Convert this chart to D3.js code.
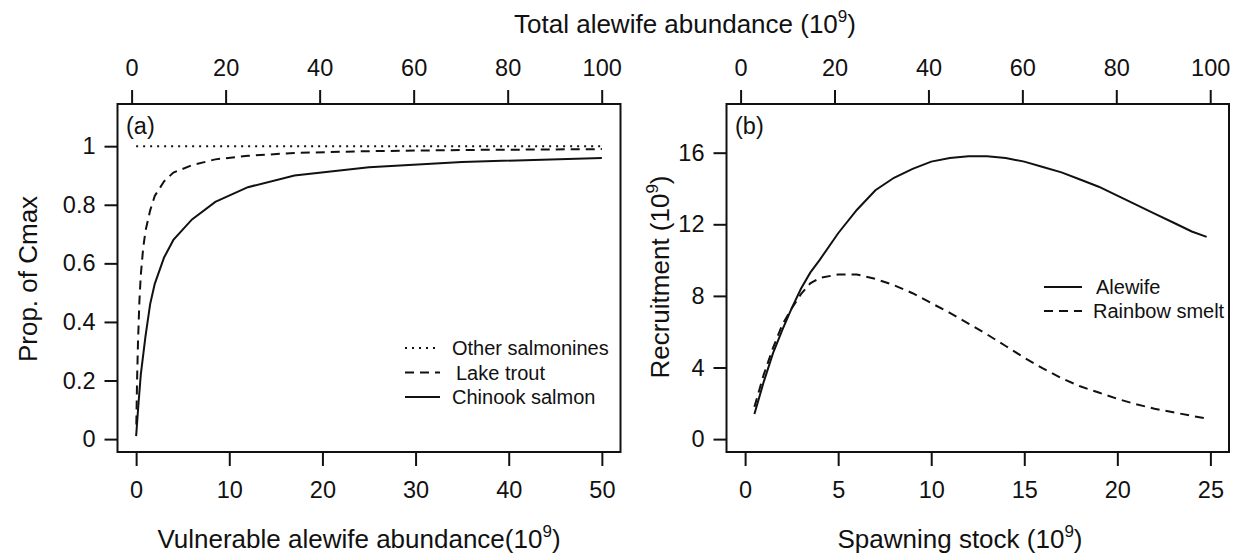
<!DOCTYPE html>
<html>
<head>
<meta charset="utf-8">
<script src="https://cdn.jsdelivr.net/npm/d3@7"></script>
<style>
  body { margin: 0; background: #fff; }
  svg { font-family: "Liberation Sans", Arial, sans-serif; }
  .tick line { stroke: #111; stroke-width: 2; }
  .tick text { fill: #111; font-size: 23.5px; }
</style>
</head>
<body>
<svg id="chart" width="1236" height="557"></svg>
<script>
// panel (a): consumption vs vulnerable alewife
var chinookX = [0, 0.25, 0.5, 1, 1.5, 2, 3, 4, 6, 8.5, 12, 17, 25, 35, 50];
var chinookY = [0.01, 0.12, 0.22, 0.35, 0.46, 0.53, 0.62, 0.68, 0.75, 0.81, 0.86, 0.9, 0.928, 0.946, 0.96];
var laketroutX = [0.02, 0.1, 0.2, 0.35, 0.5, 0.75, 1, 1.5, 2, 3, 4, 6, 8.5, 12, 17, 25, 35, 50];
var laketroutY = [0.05, 0.2, 0.33, 0.47, 0.56, 0.65, 0.71, 0.78, 0.83, 0.88, 0.91, 0.935, 0.955, 0.967, 0.977, 0.983, 0.987, 0.99];
var otherX = [0, 50];
var otherY = [1, 1];

// panel (b): stock-recruitment
var stockX = [0.5, 1, 1.5, 2, 2.5, 3, 3.5, 4, 5, 6, 7, 8, 9, 10, 11, 12, 13, 14, 15, 16, 17, 18, 19, 20, 21, 22, 23, 24, 24.8];
var alewifeR = [1.4, 3.2, 4.8, 6.1, 7.3, 8.4, 9.3, 10.0, 11.5, 12.8, 13.9, 14.6, 15.1, 15.5, 15.7, 15.8, 15.8, 15.7, 15.5, 15.2, 14.9, 14.5, 14.1, 13.6, 13.1, 12.6, 12.1, 11.6, 11.3];
var smeltR = [1.8, 3.6, 5.1, 6.4, 7.3, 8.1, 8.7, 9.0, 9.2, 9.2, 8.95, 8.6, 8.15, 7.6, 7.05, 6.45, 5.85, 5.2, 4.55, 3.95, 3.4, 2.95, 2.6, 2.25, 1.95, 1.7, 1.5, 1.3, 1.15];

var leftXTicks = [0, 10, 20, 30, 40, 50];
var leftYTicks = [0, 0.2, 0.4, 0.6, 0.8, 1];
var rightXTicks = [0, 5, 10, 15, 20, 25];
var rightYTicks = [0, 4, 8, 12, 16];
var topTicks = [0, 20, 40, 60, 80, 100];

var svg = d3.select("#chart");
var boxTop = 104, boxBottom = 452;

var panels = [
  { left: 117.5, right: 620.5, xDom: [-2, 52], yDom: [-0.044, 1.144], xTicks: leftXTicks, yTicks: leftYTicks, tag: "(a)" },
  { left: 726.5, right: 1229, xDom: [-1, 26], yDom: [-0.72, 18.72], xTicks: rightXTicks, yTicks: rightYTicks, tag: "(b)" }
];

panels.forEach(function(p) {
  p.x = d3.scaleLinear().domain(p.xDom).range([p.left, p.right]);
  p.y = d3.scaleLinear().domain(p.yDom).range([boxBottom, boxTop]);
  p.top = d3.scaleLinear().domain([-3, 104]).range([p.left, p.right]);

  svg.append("g")
    .attr("transform", "translate(0," + boxBottom + ")")
    .call(d3.axisBottom(p.x).tickValues(p.xTicks).tickSize(14).tickPadding(15).tickSizeOuter(0))
    .call(g => g.select(".domain").remove());

  svg.append("g")
    .attr("transform", "translate(0," + boxTop + ")")
    .call(d3.axisTop(p.top).tickValues(topTicks).tickSize(14).tickPadding(14).tickSizeOuter(0))
    .call(g => g.select(".domain").remove());

  svg.append("g")
    .attr("transform", "translate(" + p.left + ",0)")
    .call(d3.axisLeft(p.y).tickValues(p.yTicks).tickSize(13).tickPadding(9).tickFormat(d => String(d)).tickSizeOuter(0))
    .call(g => g.select(".domain").remove());

  svg.append("rect")
    .attr("x", p.left).attr("y", boxTop)
    .attr("width", p.right - p.left).attr("height", boxBottom - boxTop)
    .attr("fill", "none").attr("stroke", "#111").attr("stroke-width", 2);

  svg.append("text")
    .attr("x", p.left + 8.5).attr("y", 134)
    .attr("font-size", 23.5).attr("fill", "#111")
    .text(p.tag);
});

var a = panels[0], b = panels[1];

function drawLine(p, xs, ys, dash) {
  var pts = xs.map((d, i) => [d, ys[i]]);
  var line = d3.line().x(d => p.x(d[0])).y(d => p.y(d[1]));
  svg.append("path")
    .datum(pts)
    .attr("d", line)
    .attr("fill", "none")
    .attr("stroke", "#111")
    .attr("stroke-width", 2)
    .attr("stroke-dasharray", dash);
}

drawLine(a, otherX, otherY, "2,5");
drawLine(a, laketroutX, laketroutY, "9,6");
drawLine(a, chinookX, chinookY, null);

drawLine(b, stockX, smeltR, "9,6");
drawLine(b, stockX, alewifeR, null);

// legends
function legend(items, x1, x2, tx, y0, step) {
  items.forEach(function(it, i) {
    var y = y0 + i * step;
    svg.append("line")
      .attr("x1", x1).attr("x2", x2).attr("y1", y).attr("y2", y)
      .attr("stroke", "#111").attr("stroke-width", 2)
      .attr("stroke-dasharray", it.dash);
    svg.append("text")
      .attr("x", tx + (it.dx || 0)).attr("y", y + 7)
      .attr("font-size", 20).attr("fill", "#111")
      .text(it.label);
  });
}

legend([
  { label: "Other salmonines", dash: "2,5" },
  { label: "Lake trout", dash: "9,6", dx: 4 },
  { label: "Chinook salmon", dash: null }
], 405, 440, 452, 348, 24.5);

legend([
  { label: "Alewife", dash: null, dx: 3 },
  { label: "Rainbow smelt", dash: "9,6" }
], 1044, 1082, 1093, 287, 24);

// axis titles
function supTitle(x, y, base, rotate) {
  var t = svg.append("text")
    .attr("font-size", 26).attr("fill", "#111")
    .attr("text-anchor", "middle");
  if (rotate) {
    t.attr("transform", "translate(" + x + "," + y + ") rotate(-90)");
  } else {
    t.attr("x", x).attr("y", y);
  }
  t.append("tspan").text(base);
  t.append("tspan").attr("font-size", 17).attr("dy", -11).text("9");
  t.append("tspan").attr("dy", 11).text(")");
  return t;
}

supTitle(685, 33, "Total alewife abundance (10", false);
supTitle(359, 548, "Vulnerable alewife abundance(10", false);
supTitle(960, 548, "Spawning stock (10", false);
supTitle(669, 277, "Recruitment (10", true);

svg.append("text")
  .attr("transform", "translate(37,279) rotate(-90)")
  .attr("text-anchor", "middle")
  .attr("font-size", 26).attr("fill", "#111")
  .text("Prop. of Cmax");
</script>
</body>
</html>
